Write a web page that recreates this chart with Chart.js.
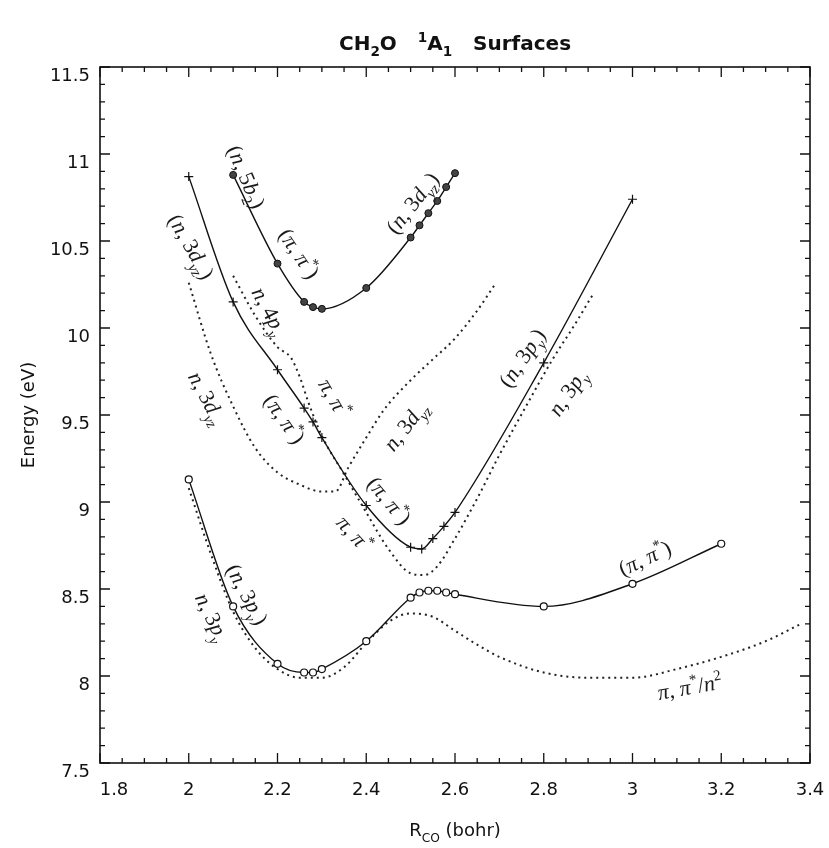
<!DOCTYPE html>
<html><head><meta charset="utf-8">
<script src="https://cdn.jsdelivr.net/npm/chart.js@4.4.1/dist/chart.umd.min.js"></script>
<style>html,body{margin:0;padding:0;background:#fff;}canvas{display:block;}</style>
</head><body>
<canvas id="c" width="829" height="848"></canvas>
<script>
// ---------- data ----------
const xTickLabels = ['1.8','2','2.2','2.4','2.6','2.8','3','3.2','3.4'];
const yTickLabels = ['7.5','8','8.5','9','9.5','10','10.5','11','11.5'];

// (n,5b2)/(pi,pi*)/(n,3dyz) surface, filled circles
const rA = [2.1, 2.2, 2.26, 2.28, 2.3, 2.4, 2.5, 2.52, 2.54, 2.56, 2.58, 2.6];
const eA = [10.88, 10.37, 10.15, 10.12, 10.11, 10.23, 10.52, 10.59, 10.66, 10.73, 10.81, 10.89];
// (n,3dyz)/(pi,pi*)/(n,3py) surface, plus markers
const rB = [2.0, 2.1, 2.2, 2.26, 2.28, 2.3, 2.4, 2.5, 2.525, 2.55, 2.575, 2.6, 2.8, 3.0];
const eB = [10.87, 10.15, 9.76, 9.54, 9.46, 9.37, 8.98, 8.74, 8.73, 8.79, 8.86, 8.94, 9.80, 10.74];
// (n,3py)/(pi,pi*) surface, open circles
const rC = [2.0, 2.1, 2.2, 2.26, 2.28, 2.3, 2.4, 2.5, 2.52, 2.54, 2.56, 2.58, 2.6, 2.8, 3.0, 3.2];
const eC = [9.13, 8.40, 8.07, 8.02, 8.02, 8.04, 8.20, 8.45, 8.48, 8.49, 8.49, 8.48, 8.47, 8.40, 8.53, 8.76];
// dotted: n,3py -> pi,pi*/n^2
const rD1 = [2.0, 2.05, 2.1, 2.15, 2.2, 2.25, 2.3, 2.35, 2.4, 2.45, 2.5, 2.55, 2.6, 2.65, 2.7, 2.8, 2.9, 3.0, 3.1, 3.2, 3.3, 3.38];
const eD1 = [9.08, 8.70, 8.37, 8.16, 8.04, 7.99, 7.99, 8.05, 8.19, 8.31, 8.36, 8.34, 8.26, 8.18, 8.11, 8.02, 7.99, 7.99, 8.04, 8.11, 8.20, 8.30];
// dotted: n,3dyz
const rD2 = [2.0, 2.05, 2.1, 2.15, 2.2, 2.25, 2.3, 2.33, 2.36, 2.4, 2.44, 2.5, 2.55, 2.6, 2.65, 2.69];
const eD2 = [10.26, 9.85, 9.55, 9.31, 9.17, 9.10, 9.06, 9.06, 9.20, 9.37, 9.53, 9.70, 9.82, 9.94, 10.10, 10.25];
// dotted: n,4py -> pi,pi* -> n,3py
const rD3 = [2.1, 2.15, 2.2, 2.23, 2.25, 2.27, 2.3, 2.35, 2.4, 2.45, 2.5, 2.53, 2.56, 2.6, 2.65, 2.7, 2.76, 2.82, 2.87, 2.91];
const eD3 = [10.30, 10.07, 9.89, 9.83, 9.72, 9.57, 9.38, 9.16, 8.94, 8.73, 8.59, 8.58, 8.63, 8.79, 9.02, 9.27, 9.55, 9.82, 10.02, 10.19];

const titleText = 'CH_2O   ^1A_1   Surfaces';
const xTitleText = 'R_{CO} (bohr)';
const yTitleText = 'Energy (eV)';
const labelTexts = ['(n, 5b_2)','(π, π^*)','(n, 3d_{yz})','(n, 3d_{yz})','n, 4p_y','n, 3d_{yz}','π, π^*','(π, π^*)',
  'n, 3d_{yz}','(π, π^*)','π, π^*','(n, 3p_y)','n, 3p_y','(n, 3p_y)','n, 3p_y','(π, π^*)','π, π^*/n^2'];

// ---------- rendering ----------
const labelPlacement = [
  [2.131,10.87,67],[2.25,10.43,56],[2.503,10.72,-52],[2.007,10.47,60],[2.183,10.10,62],[2.043,9.60,62],
  [2.329,9.60,60],[2.217,9.48,55],[2.487,9.44,-52],[2.453,9.01,50],[2.374,8.82,48],[2.75,9.83,-56],
  [2.852,9.63,-56],[2.133,8.47,62],[2.054,8.34,64],[3.027,8.68,-25],[3.129,7.94,-10]];

function pts(r, e) { return r.map((v, i) => ({x: v, y: e[i]})); }

function parseRich(str) {
  const out = []; let i = 0;
  while (i < str.length) {
    const c = str[i];
    if (c === '_' || c === '^') {
      const mode = c === '_' ? 'sub' : 'sup'; i++;
      let g;
      if (str[i] === '{') { const j = str.indexOf('}', i); g = str.slice(i + 1, j); i = j + 1; }
      else { g = str[i]; i++; }
      for (const ch of g) out.push({ch, mode});
    } else { out.push({ch: c, mode: 'n'}); i++; }
  }
  return out;
}
function drawRich(ctx, str, x, y, o) {
  const toks = parseRich(str);
  const size = o.size;
  const fontOf = t => {
    const s = t.mode === 'n' ? size : size * 0.68;
    const it = o.math && /[A-Za-zπ]/.test(t.ch) ? 'italic ' : '';
    return it + (o.weight || 'normal') + ' ' + s + 'px ' + o.family;
  };
  ctx.save();
  ctx.translate(x, y);
  ctx.rotate((o.angle || 0) * Math.PI / 180);
  const ws = toks.map(t => { ctx.font = fontOf(t); return ctx.measureText(t.ch).width; });
  const total = ws.reduce((a, b) => a + b, 0);
  let cx = -total / 2;
  ctx.fillStyle = o.color || '#111';
  ctx.textBaseline = 'alphabetic';
  ctx.textAlign = 'left';
  toks.forEach((t, k) => {
    ctx.font = fontOf(t);
    const dy = t.mode === 'sub' ? size * 0.28 : (t.mode === 'sup' ? -size * 0.42 : 0);
    ctx.fillText(t.ch, cx, size * 0.36 + dy);
    cx += ws[k];
  });
  ctx.restore();
}

const decor = {
  id: 'decor',
  afterDraw(chart) {
    const {ctx, chartArea: a, scales: {x, y}} = chart;
    ctx.save();
    ctx.strokeStyle = '#111';
    // frame
    ctx.lineWidth = 1.6;
    ctx.strokeRect(a.left, a.top, a.right - a.left, a.bottom - a.top);
    // inward ticks on all four sides
    ctx.lineWidth = 1.3;
    ctx.beginPath();
    for (let k = 0; k <= 32; k++) {
      const v = 1.8 + k * 0.05;
      const px = x.getPixelForValue(v);
      const L = k % 4 === 0 ? 10 : 5;
      ctx.moveTo(px, a.bottom); ctx.lineTo(px, a.bottom - L);
      ctx.moveTo(px, a.top); ctx.lineTo(px, a.top + L);
    }
    for (let k = 0; k <= 40; k++) {
      const v = 7.5 + k * 0.1;
      const py = y.getPixelForValue(v);
      const L = k % 5 === 0 ? 10 : 5;
      ctx.moveTo(a.left, py); ctx.lineTo(a.left + L, py);
      ctx.moveTo(a.right, py); ctx.lineTo(a.right - L, py);
    }
    ctx.stroke();
    // x tick labels
    ctx.fillStyle = '#111';
    ctx.font = '18px "DejaVu Sans"';
    ctx.textAlign = 'center';
    ctx.textBaseline = 'middle';
    xTickLabels.forEach((t, i) => {
      const px = x.getPixelForValue(parseFloat(t)) + (i === 0 ? 14 : 0);
      ctx.fillText(t, px, a.bottom + 27);
    });
    // title & axis titles
    const cxm = (a.left + a.right) / 2;
    drawRich(ctx, titleText, cxm, 43, {size: 20, family: '"DejaVu Sans"', weight: 'bold'});
    drawRich(ctx, xTitleText, cxm, a.bottom + 67, {size: 18, family: '"DejaVu Sans"'});
    drawRich(ctx, yTitleText, 28, (a.top + a.bottom) / 2, {size: 18, family: '"DejaVu Sans"', angle: -90});
    // curve labels
    labelTexts.forEach((t, i) => {
      const p = labelPlacement[i];
      drawRich(ctx, t, x.getPixelForValue(p[0]), y.getPixelForValue(p[1]),
        {size: 22, family: '"Liberation Serif"', math: true, angle: p[2], color: '#1a1a1a'});
    });
    ctx.restore();
  }
};

const solid = {borderColor: '#111', borderWidth: 1.4, cubicInterpolationMode: 'monotone', fill: false};
const dotted = {borderColor: '#222', borderWidth: 2, borderDash: [2, 4], pointRadius: 0,
  cubicInterpolationMode: 'monotone', fill: false};

new Chart(document.getElementById('c'), {
  type: 'line',
  data: {
    datasets: [
      Object.assign({label: 'A', data: pts(rA, eA), pointStyle: 'circle', pointRadius: 3.5,
        pointBackgroundColor: '#444', pointBorderColor: '#111', pointBorderWidth: 1}, solid),
      Object.assign({label: 'B', data: pts(rB, eB), pointStyle: 'cross', pointRadius: 4.5,
        pointBorderColor: '#111', pointBorderWidth: 1.2}, solid),
      Object.assign({label: 'C', data: pts(rC, eC), pointStyle: 'circle', pointRadius: 3.5,
        pointBackgroundColor: '#fff', pointBorderColor: '#111', pointBorderWidth: 1.2}, solid),
      Object.assign({label: 'D1', data: pts(rD1, eD1)}, dotted),
      Object.assign({label: 'D2', data: pts(rD2, eD2)}, dotted),
      Object.assign({label: 'D3', data: pts(rD3, eD3)}, dotted)
    ]
  },
  options: {
    responsive: false,
    animation: false,
    layout: {padding: {top: 67, right: 19, left: 0, bottom: 0}},
    plugins: {legend: {display: false}, tooltip: {enabled: false}, title: {display: false}},
    scales: {
      x: {
        type: 'linear', min: 1.8, max: 3.4,
        grid: {display: false, drawTicks: false}, border: {display: false},
        ticks: {display: false, stepSize: 0.2},
        afterFit: s => { s.height = 85; }
      },
      y: {
        type: 'linear', min: 7.5, max: 11.5,
        grid: {display: false, drawTicks: false}, border: {display: false},
        ticks: {
          stepSize: 0.5, padding: 10, labelOffset: 9, color: '#111',
          font: {family: '"DejaVu Sans"', size: 18},
          callback: v => yTickLabels.find(l => Math.abs(parseFloat(l) - v) < 1e-6) || ''
        },
        afterFit: s => { s.width = 100; }
      }
    }
  },
  plugins: [decor]
});
</script>
</body></html>
